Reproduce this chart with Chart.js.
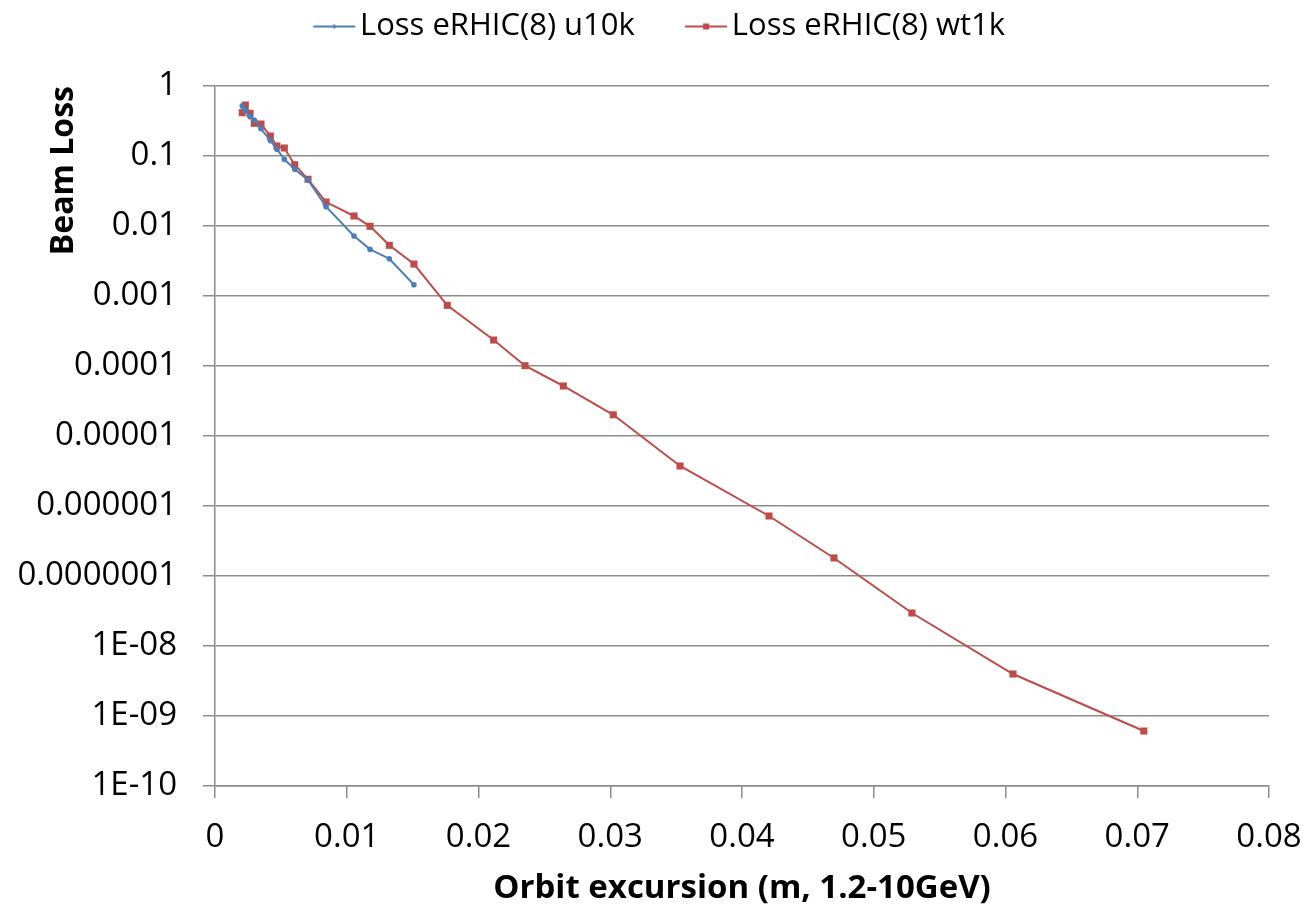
<!DOCTYPE html>
<html>
<head>
<meta charset="utf-8">
<script src="https://cdn.jsdelivr.net/npm/chart.js@4"></script>
<style>
    html, body { margin: 0; padding: 0; background: #ffffff; }
    #wrap { width: 1309px; height: 907px; }
</style>
</head>
<body>
<div id="wrap"><canvas id="chart" width="1309" height="907"></canvas></div>
<script>
// Orbit excursion (m) and beam loss
const u10kX = [0.00207, 0.0023, 0.00266, 0.00298, 0.00349, 0.0042, 0.0047, 0.00526, 0.00605, 0.00706, 0.00843, 0.01055, 0.01177, 0.01323, 0.0151];
const u10kY = [0.52, 0.45, 0.365, 0.327, 0.245, 0.166, 0.125, 0.0896, 0.0646, 0.0454, 0.0189, 0.0072, 0.00464, 0.00341, 0.00145];

const wt1kX = [0.00207, 0.0023, 0.00266, 0.00298, 0.00349, 0.0042, 0.0047, 0.00526, 0.00605, 0.00706, 0.00843, 0.01055, 0.01177, 0.01323, 0.0151, 0.01763, 0.02115, 0.02353, 0.02644, 0.03023, 0.0353, 0.04205, 0.04698, 0.0529, 0.06057, 0.0705];
const wt1kY = [0.416, 0.535, 0.407, 0.293, 0.286, 0.193, 0.139, 0.13, 0.0751, 0.0465, 0.022, 0.0139, 0.0099, 0.0053, 0.00286, 0.000736, 0.000235, 0.000101, 0.0000518, 0.0000201, 0.00000373, 0.00000072, 0.000000181, 2.96e-8, 3.98e-9, 6.1e-10];

// Tick labels
const xTicks = [0, 0.01, 0.02, 0.03, 0.04, 0.05, 0.06, 0.07, 0.08];
const xTickLabels = ["0", "0.01", "0.02", "0.03", "0.04", "0.05", "0.06", "0.07", "0.08"];
const yTicks = [1, 0.1, 0.01, 0.001, 0.0001, 1e-5, 1e-6, 1e-7, 1e-8, 1e-9, 1e-10];
const yTickLabels = ["1", "0.1", "0.01", "0.001", "0.0001", "0.00001", "0.000001", "0.0000001", "1E-08", "1E-09", "1E-10"];

const seriesNames = ["Loss eRHIC(8) u10k", "Loss eRHIC(8) wt1k"];
const blue = "#4a7ebb";
const red = "#be4b48";
const gridColor = "#8c8c8c";
const fontFamily = "'Open Sans', 'Liberation Sans', sans-serif";

function toPoints(xs, ys) {
    let pts = [];
    for (let i = 0; i < xs.length; i++) {
        pts.push({ x: xs[i], y: ys[i] });
    }
    return pts;
}

// Legend swatch: short line with the marker, drawn on the right part of the image
function legendSwatch(color, square) {
    const c = document.createElement("canvas");
    c.width = 100;
    c.height = 12;
    const g = c.getContext("2d");
    g.strokeStyle = color;
    g.lineWidth = 2;
    g.beginPath();
    g.moveTo(54, 6);
    g.lineTo(96, 6);
    g.stroke();
    g.fillStyle = color;
    if (square) {
        g.fillRect(72, 3, 6, 6);
    } else {
        g.beginPath();
        g.moveTo(75, 3.5);
        g.lineTo(77.5, 6);
        g.lineTo(75, 8.5);
        g.lineTo(72.5, 6);
        g.closePath();
        g.fill();
    }
    return c;
}

// Push the plot down below the legend
const legendSpacer = {
    id: "legendSpacer",
    beforeInit(chart) {
        const originalFit = chart.legend.fit;
        chart.legend.fit = function fit() {
            originalFit.bind(chart.legend)();
            this.height += 34;
        };
    }
};

const ctx = document.getElementById("chart");

new Chart(ctx, {
    type: "scatter",
    data: {
        datasets: [
            {
                label: seriesNames[0],
                data: toPoints(u10kX, u10kY),
                showLine: true,
                borderColor: blue,
                backgroundColor: blue,
                borderWidth: 2,
                pointStyle: "circle",
                pointRadius: 2.8,
                pointBorderWidth: 0,
                legendSwatch: legendSwatch(blue, false)
            },
            {
                label: seriesNames[1],
                data: toPoints(wt1kX, wt1kY),
                showLine: true,
                borderColor: red,
                backgroundColor: red,
                borderWidth: 2,
                pointStyle: "rect",
                pointRadius: 5,
                pointBorderWidth: 0,
                legendSwatch: legendSwatch(red, true)
            }
        ]
    },
    plugins: [legendSpacer],
    options: {
        responsive: false,
        animation: false,
        layout: {
            padding: { left: 10, right: 40, top: 0, bottom: 0 }
        },
        plugins: {
            legend: {
                position: "top",
                labels: {
                    usePointStyle: true,
                    pointStyleWidth: 70.5,
                    font: { family: fontFamily, size: 31 },
                    color: "#000000",
                    padding: 11,
                    generateLabels: (chart) => chart.data.datasets.map((ds, i) => ({
                        text: ds.label,
                        pointStyle: ds.legendSwatch,
                        fillStyle: ds.borderColor,
                        strokeStyle: ds.borderColor,
                        lineWidth: 0,
                        fontColor: "#000000",
                        datasetIndex: i,
                        hidden: false
                    }))
                }
            },
            tooltip: { enabled: false }
        },
        scales: {
            x: {
                type: "linear",
                min: 0,
                max: 0.08,
                afterBuildTicks: (scale) => {
                    scale.ticks = xTicks.map((v) => ({ value: v }));
                },
                afterFit: (scale) => {
                    scale.height = 121;
                    scale.paddingLeft = 0;
                    scale.paddingRight = 0;
                },
                ticks: {
                    font: { family: fontFamily, size: 33 },
                    color: "#000000",
                    padding: 20,
                    maxRotation: 0,
                    callback: (value, index) => xTickLabels[index]
                },
                grid: {
                    drawOnChartArea: false,
                    color: gridColor,
                    lineWidth: 1.5,
                    tickLength: 12
                },
                border: { color: gridColor, width: 1.5 },
                title: {
                    display: true,
                    text: "Orbit excursion (m, 1.2-10GeV)",
                    font: { family: fontFamily, size: 33, weight: "bold", lineHeight: 1.1 },
                    color: "#000000",
                    padding: { top: 0, bottom: 0 }
                }
            },
            y: {
                type: "logarithmic",
                min: 1e-10,
                max: 1,
                afterBuildTicks: (scale) => {
                    scale.ticks = yTicks.map((v) => ({ value: v }));
                },
                afterFit: (scale) => {
                    scale.width = 205;
                },
                ticks: {
                    font: { family: fontFamily, size: 33 },
                    color: "#000000",
                    padding: 26,
                    autoSkip: false,
                    callback: (value, index) => yTickLabels[index]
                },
                grid: {
                    color: gridColor,
                    lineWidth: 1.5,
                    tickLength: 12
                },
                border: { color: gridColor, width: 1.5 },
                title: {
                    display: true,
                    text: "Beam Loss",
                    align: "end",
                    font: { family: fontFamily, size: 32, weight: "bold" },
                    color: "#000000",
                    padding: { top: 35, bottom: 0 }
                }
            }
        }
    }
});
</script>
</body>
</html>
